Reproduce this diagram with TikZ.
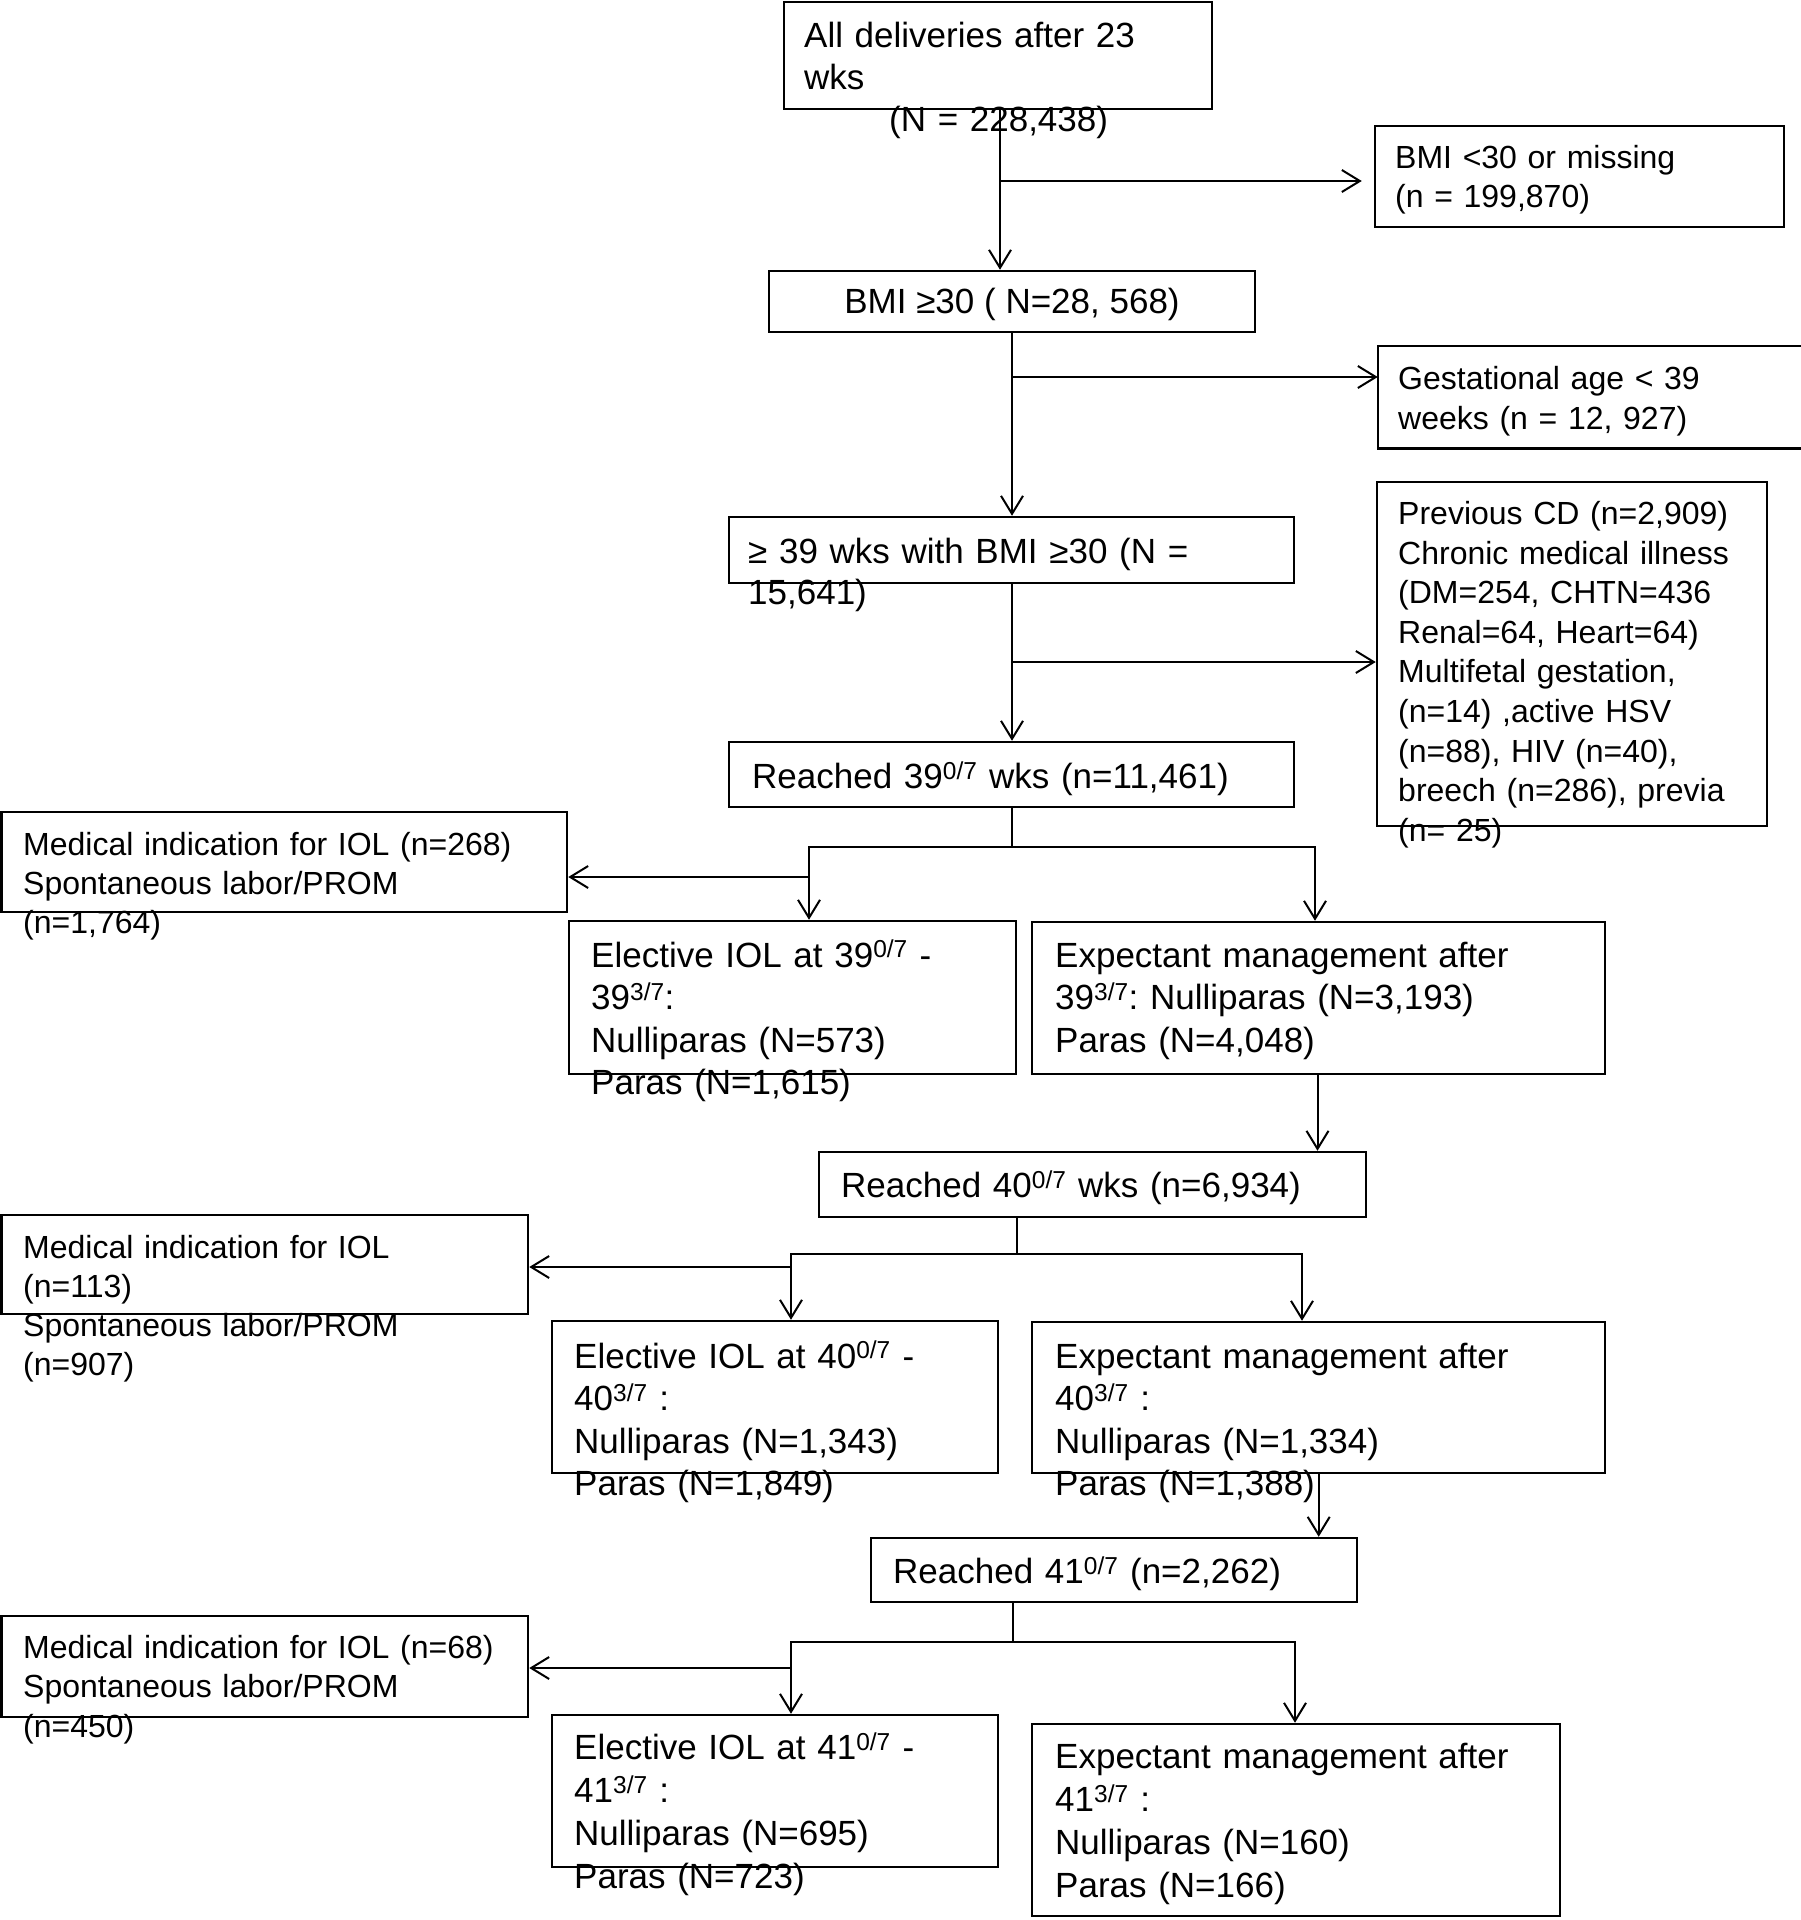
\documentclass[tikz,border=0pt]{standalone}
\usepackage{fontspec}
\setmainfont{Liberation Sans}
\usetikzlibrary{arrows.meta}
\frenchspacing
\tikzset{
  box/.style={draw, line width=2.5pt, rectangle, inner sep=0pt},
  txt/.style={anchor=base west, inner sep=0pt, text width=700pt, align=left,
              font=\fontsize{35pt}{#1pt}\selectfont},
  txt/.default=42,
  txts/.style={anchor=base west, inner sep=0pt, text width=700pt, align=left,
              font=\fontsize{32pt}{#1pt}\selectfont},
  txts/.default=39.5,
  ln/.style={line width=2pt},
  arr/.style={line width=2pt, -{Straight Barb[length=18pt,width=22pt,line width=2pt]}},
}
\newcommand\mkbox[6][]{%
  \pgfmathsetmacro\bcx{(#3+#5)/2}%
  \pgfmathsetmacro\bcy{(#4+#6)/2}%
  \pgfmathsetmacro\bw{#5-#3}%
  \pgfmathsetmacro\bh{#6-#4}%
  \node[box,#1,minimum width=\bw pt,minimum height=\bh pt] (#2) at (\bcx,\bcy) {};}
\newcommand\sps[1]{\textsuperscript{#1}}
\begin{document}
\begin{tikzpicture}[x=1pt,y=-1pt]
\fill[white] (0,0) rectangle (1801,1920);
\useasboundingbox (0,0) rectangle (1801,1920);

% boxes
\mkbox{A}{784}{2}{1212}{109}
\mkbox{B}{1375}{126}{1784}{227}
\mkbox{C}{769}{271}{1255}{332}
\mkbox[draw=none]{gest}{1379}{347}{1801}{447}
\draw[line width=2.5pt] (gest.north east) -- (gest.north west) -- (gest.south west) -- (gest.south east);
\mkbox{D}{729}{517}{1294}{583}
\mkbox{prev}{1377}{482}{1767}{826}
\mkbox{E}{729}{742}{1294}{807}
\mkbox{H}{1.5}{812}{567}{912}
\mkbox{F}{569}{921}{1016}{1074}
\mkbox{G}{1032}{922}{1605}{1074}
\mkbox{I}{819}{1152}{1366}{1217}
\mkbox{L}{1.5}{1215}{528}{1314}
\mkbox{J}{552}{1321}{998}{1473}
\mkbox{K}{1032}{1322}{1605}{1473}
\mkbox{M}{871}{1538}{1357}{1602}
\mkbox{P}{1.5}{1616}{528}{1717}
\mkbox{N}{552}{1715}{998}{1867}
\mkbox{O}{1032}{1724}{1560}{1916}

% texts
\node[txt=42] (tA) at (804,47) {All deliveries after 23\\wks\\\hspace*{85pt}(N = 228,438)};
\node[txts=39] (tB) at (1395,168) {BMI <30 or missing\\(n = 199,870)};
\node[anchor=base, inner sep=0pt, font=\fontsize{35pt}{42pt}\selectfont] (tC) at (1012,313.5) {BMI ≥30 ( N=28, 568)};
\node[txts=40.5] (tgest) at (1398,389) {Gestational age < 39\\weeks (n = 12, 927)};
\node[txt=41] (tD) at (748,563.5) {≥ 39 wks with BMI ≥30 (N =\\15,641)};
\node[txts=39.6] (tprev) at (1398,524.5) {Previous CD (n=2,909)\\Chronic medical illness\\(DM=254, CHTN=436\\Renal=64, Heart=64)\\Multifetal gestation,\\(n=14) ,active HSV\\(n=88), HIV (n=40),\\breech (n=286), previa\\(n= 25)};
\node[txt] (tE) at (752,788.5) {Reached 39\sps{0/7} wks (n=11,461)};
\node[txts=39.2] (tH) at (23,855) {Medical indication for IOL (n=268)\\Spontaneous labor/PROM\\(n=1,764)};
\node[txt=42.5] (tF) at (591,967) {Elective IOL at 39\sps{0/7} -\\39\sps{3/7}:\\Nulliparas (N=573)\\Paras (N=1,615)};
\node[txt=42.5] (tG) at (1055,967) {Expectant management after\\39\sps{3/7}: Nulliparas (N=3,193)\\Paras (N=4,048)};
\node[txt] (tI) at (841,1197.5) {Reached 40\sps{0/7} wks (n=6,934)};
\node[txts=39.2] (tL) at (23,1258) {Medical indication for IOL\\(n=113)\\Spontaneous labor/PROM\\(n=907)};
\node[txt=42.5] (tJ) at (574,1368) {Elective IOL at 40\sps{0/7} -\\40\sps{3/7} :\\Nulliparas (N=1,343)\\Paras (N=1,849)};
\node[txt=42.5] (tK) at (1055,1368) {Expectant management after\\40\sps{3/7} :\\Nulliparas (N=1,334)\\Paras (N=1,388)};
\node[txt] (tM) at (893,1583.5) {Reached 41\sps{0/7} (n=2,262)};
\node[txts=39.5] (tP) at (23,1658) {Medical indication for IOL (n=68)\\Spontaneous labor/PROM\\(n=450)};
\node[txt=43] (tN) at (574,1759.5) {Elective IOL at 41\sps{0/7} -\\41\sps{3/7} :\\Nulliparas (N=695)\\Paras (N=723)};
\node[txt=43] (tO) at (1055,1768.5) {Expectant management after\\41\sps{3/7} :\\Nulliparas (N=160)\\Paras (N=166)};

% connectors
\coordinate (vA) at (1000,181);
\draw[arr] (A.south -| vA) -- (C.north -| vA);
\draw[arr, shorten >=12pt] (vA) -- (B.west |- vA);

\coordinate (vC) at (1012,377);
\draw[arr] (C.south -| vC) -- (D.north -| vC);
\draw[arr] (vC) -- (gest.west |- vC);

\coordinate (vD) at (1012,662);
\draw[arr] (D.south -| vD) -- (E.north -| vD);
\draw[arr] (vD) -- (prev.west |- vD);

\coordinate (fE) at (1012,847);
\coordinate (fEl) at (809,847);
\coordinate (fEr) at (1315,847);
\coordinate (hE) at (809,877);
\draw[arr] (E.south -| fE) -- (fE) -- (fEr) -- (G.north -| fEr);
\draw[arr] (fE) -- (fEl) -- (F.north -| fEl);
\draw[arr] (hE) -- (H.east |- hE);

\coordinate (vG) at (1317.5,0);
\draw[arr] (G.south -| vG) -- (I.north -| vG);

\coordinate (fI) at (1017,1254);
\coordinate (fIl) at (791,1254);
\coordinate (fIr) at (1302,1254);
\coordinate (hI) at (791,1267);
\draw[arr] (I.south -| fI) -- (fI) -- (fIr) -- (K.north -| fIr);
\draw[arr] (fI) -- (fIl) -- (J.north -| fIl);
\draw[arr] (hI) -- (L.east |- hI);

\coordinate (vK) at (1318.7,0);
\draw[arr] (K.south -| vK) -- (M.north -| vK);

\coordinate (fM) at (1012.6,1642);
\coordinate (fMl) at (791,1642);
\coordinate (fMr) at (1295,1642);
\coordinate (hM) at (791,1668);
\draw[arr] (M.south -| fM) -- (fM) -- (fMr) -- (O.north -| fMr);
\draw[arr] (fM) -- (fMl) -- (N.north -| fMl);
\draw[arr] (hM) -- (P.east |- hM);
\end{tikzpicture}
\end{document}
